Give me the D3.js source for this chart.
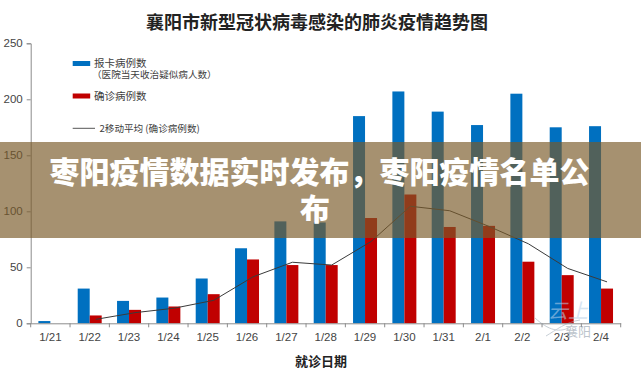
<!DOCTYPE html>
<html><head><meta charset="utf-8">
<script src="https://cdn.jsdelivr.net/npm/d3@7/dist/d3.min.js"></script>
<style>html,body{margin:0;padding:0;background:#fff;}svg{display:block;}</style>
</head><body>
<script>
const dates = ['1/21','1/22','1/23','1/24','1/25','1/26','1/27','1/28','1/29','1/30','1/31','2/1','2/2','2/3','2/4'];
const reported = [2,31,20,23,40,67,91,90,185,207,189,177,205,175,176];
const confirmed = [0,7,12,15,26,57,52,52,94,115,86,87,55,43,31];
const movingAvg = [null,3.5,9.5,13.5,20.5,41.5,54.5,52,73,104.5,100.5,86.5,71,49,37];
const yTicks = [0,50,100,150,200,250];
const title = '襄阳市新型冠状病毒感染的肺炎疫情趋势图';
const xTitle = '就诊日期';
const legendItems = ['报卡病例数','（医院当天收治疑似病人数）','确诊病例数','2移动平均 (确诊病例数)'];
const bannerLines = ['枣阳疫情数据实时发布，枣阳疫情名单公','布'];

const W = 641, H = 380;
const svg = d3.select('body').append('svg').attr('width', W).attr('height', H);

const x = d3.scaleBand().domain(dates).range([30.7, 620.7]).padding(0);
const x1 = d3.scaleBand().domain(['r','c']).range([0, x.bandwidth()]).paddingInner(0).paddingOuter(0.64);
const y = d3.scaleLinear().domain([0, 250]).range([323.3, 43.3]);

const cjk = '"Noto Sans CJK SC","Noto Sans",sans-serif';

// title
svg.append('text').attr('x', 317).attr('y', 29).attr('text-anchor','middle')
  .style('font-family', cjk).style('font-weight', 700).style('font-size','18px').attr('fill','#222')
  .text(title);

// y axis
const yAxis = svg.append('g').attr('transform','translate(30.7,0)')
  .call(d3.axisLeft(y).tickValues(yTicks).tickSize(4).tickPadding(4));
yAxis.select('.domain').attr('stroke','#8c8c8c');
yAxis.selectAll('.tick line').attr('stroke','#8c8c8c');
yAxis.selectAll('.tick text').attr('fill','#444').style('font-family','"Liberation Sans",Arial,sans-serif').style('font-size','11.5px');

// bars
const g = svg.append('g');
g.selectAll('rect.rep').data(dates).join('rect').attr('class','rep')
  .attr('x', d => x(d) + x1('r')).attr('width', x1.bandwidth())
  .attr('y', (d,i) => y(reported[i])).attr('height', (d,i) => y(0) - y(reported[i]))
  .attr('fill', '#0070c0');
g.selectAll('rect.con').data(dates).join('rect').attr('class','con')
  .attr('x', d => x(d) + x1('c')).attr('width', x1.bandwidth())
  .attr('y', (d,i) => y(confirmed[i])).attr('height', (d,i) => y(0) - y(confirmed[i]))
  .attr('fill', '#c00000');

// moving average line
const line = d3.line().defined(d => d[1] != null)
  .x(d => x(d[0]) + x1('c') + x1.bandwidth()/2).y(d => y(d[1]));
svg.append('path').datum(dates.map((d,i) => [d, movingAvg[i]]))
  .attr('d', line).attr('fill','none').attr('stroke','#3a3a3a').attr('stroke-width',1);

// x axis
const xAxis = svg.append('g').attr('transform','translate(0,' + y(0) + ')')
  .call(d3.axisBottom(x).tickSize(0).tickPadding(10));
xAxis.select('.domain').attr('stroke','#8c8c8c');
xAxis.selectAll('.tick text').attr('fill','#444').style('font-family','"Liberation Sans",Arial,sans-serif').style('font-size','11.5px');
// boundary tick marks
svg.append('g').selectAll('line').data(dates.concat(['end'])).join('line')
  .attr('x1', (d,i) => i < dates.length ? x(d) : x.range()[1])
  .attr('x2', (d,i) => i < dates.length ? x(d) : x.range()[1])
  .attr('y1', y(0)).attr('y2', y(0) + 4).attr('stroke','#8c8c8c');

svg.append('text').attr('x', 321).attr('y', 366).attr('text-anchor','middle')
  .style('font-family', cjk).style('font-weight', 700).style('font-size','13px').attr('fill','#222')
  .text(xTitle);

// legend
const lg = svg.append('g').style('font-family', cjk).attr('fill','#404040');
lg.append('rect').attr('x',72.7).attr('y',61).attr('width',17.5).attr('height',5).attr('fill','#0070c0');
lg.append('text').attr('x',94).attr('y',67.3).style('font-size','10.5px').text(legendItems[0]);
lg.append('text').attr('x',92).attr('y',78.2).style('font-size','9.6px').text(legendItems[1]);
lg.append('rect').attr('x',72.7).attr('y',93.5).attr('width',17.5).attr('height',5).attr('fill','#c00000');
lg.append('text').attr('x',94).attr('y',100).style('font-size','10.5px').text(legendItems[2]);
lg.append('line').attr('x1',72.7).attr('x2',95).attr('y1',128.3).attr('y2',128.3).attr('stroke','#555').attr('stroke-width',1);
lg.append('text').attr('x',99.5).attr('y',132).style('font-size','9.6px').text(legendItems[3]);

// watermark
const wm = svg.append('g').attr('opacity',0.55);
wm.append('text').attr('x',548).attr('y',318).style('font-family',cjk).style('font-size','20px').style('font-style','italic').attr('fill','#b8d0e8').text('云上');
wm.append('path').attr('d','M535,318 C548,330 560,334 572,326 M546,336 C556,330 566,322 580,320').attr('fill','none').attr('stroke','#9aa8b5').attr('stroke-width',1);
wm.append('text').attr('x',565).attr('y',336).style('font-family',cjk).style('font-size','13px').attr('fill','#8896a3').text('襄阳');

// banner overlay
svg.append('rect').attr('x',0).attr('y',142).attr('width',W).attr('height',96)
  .attr('fill','rgb(121,90,40)').attr('fill-opacity',0.667);
svg.append('text').attr('x',319.5).attr('y',182.5).attr('text-anchor','middle')
  .style('font-family',cjk).style('font-weight',900).style('font-size','30px').attr('fill','#fff')
  .text(bannerLines[0]);
svg.append('text').attr('x',315).attr('y',219.5).attr('text-anchor','middle')
  .style('font-family',cjk).style('font-weight',900).style('font-size','30px').attr('fill','#fff')
  .text(bannerLines[1]);
</script>
</body></html>
